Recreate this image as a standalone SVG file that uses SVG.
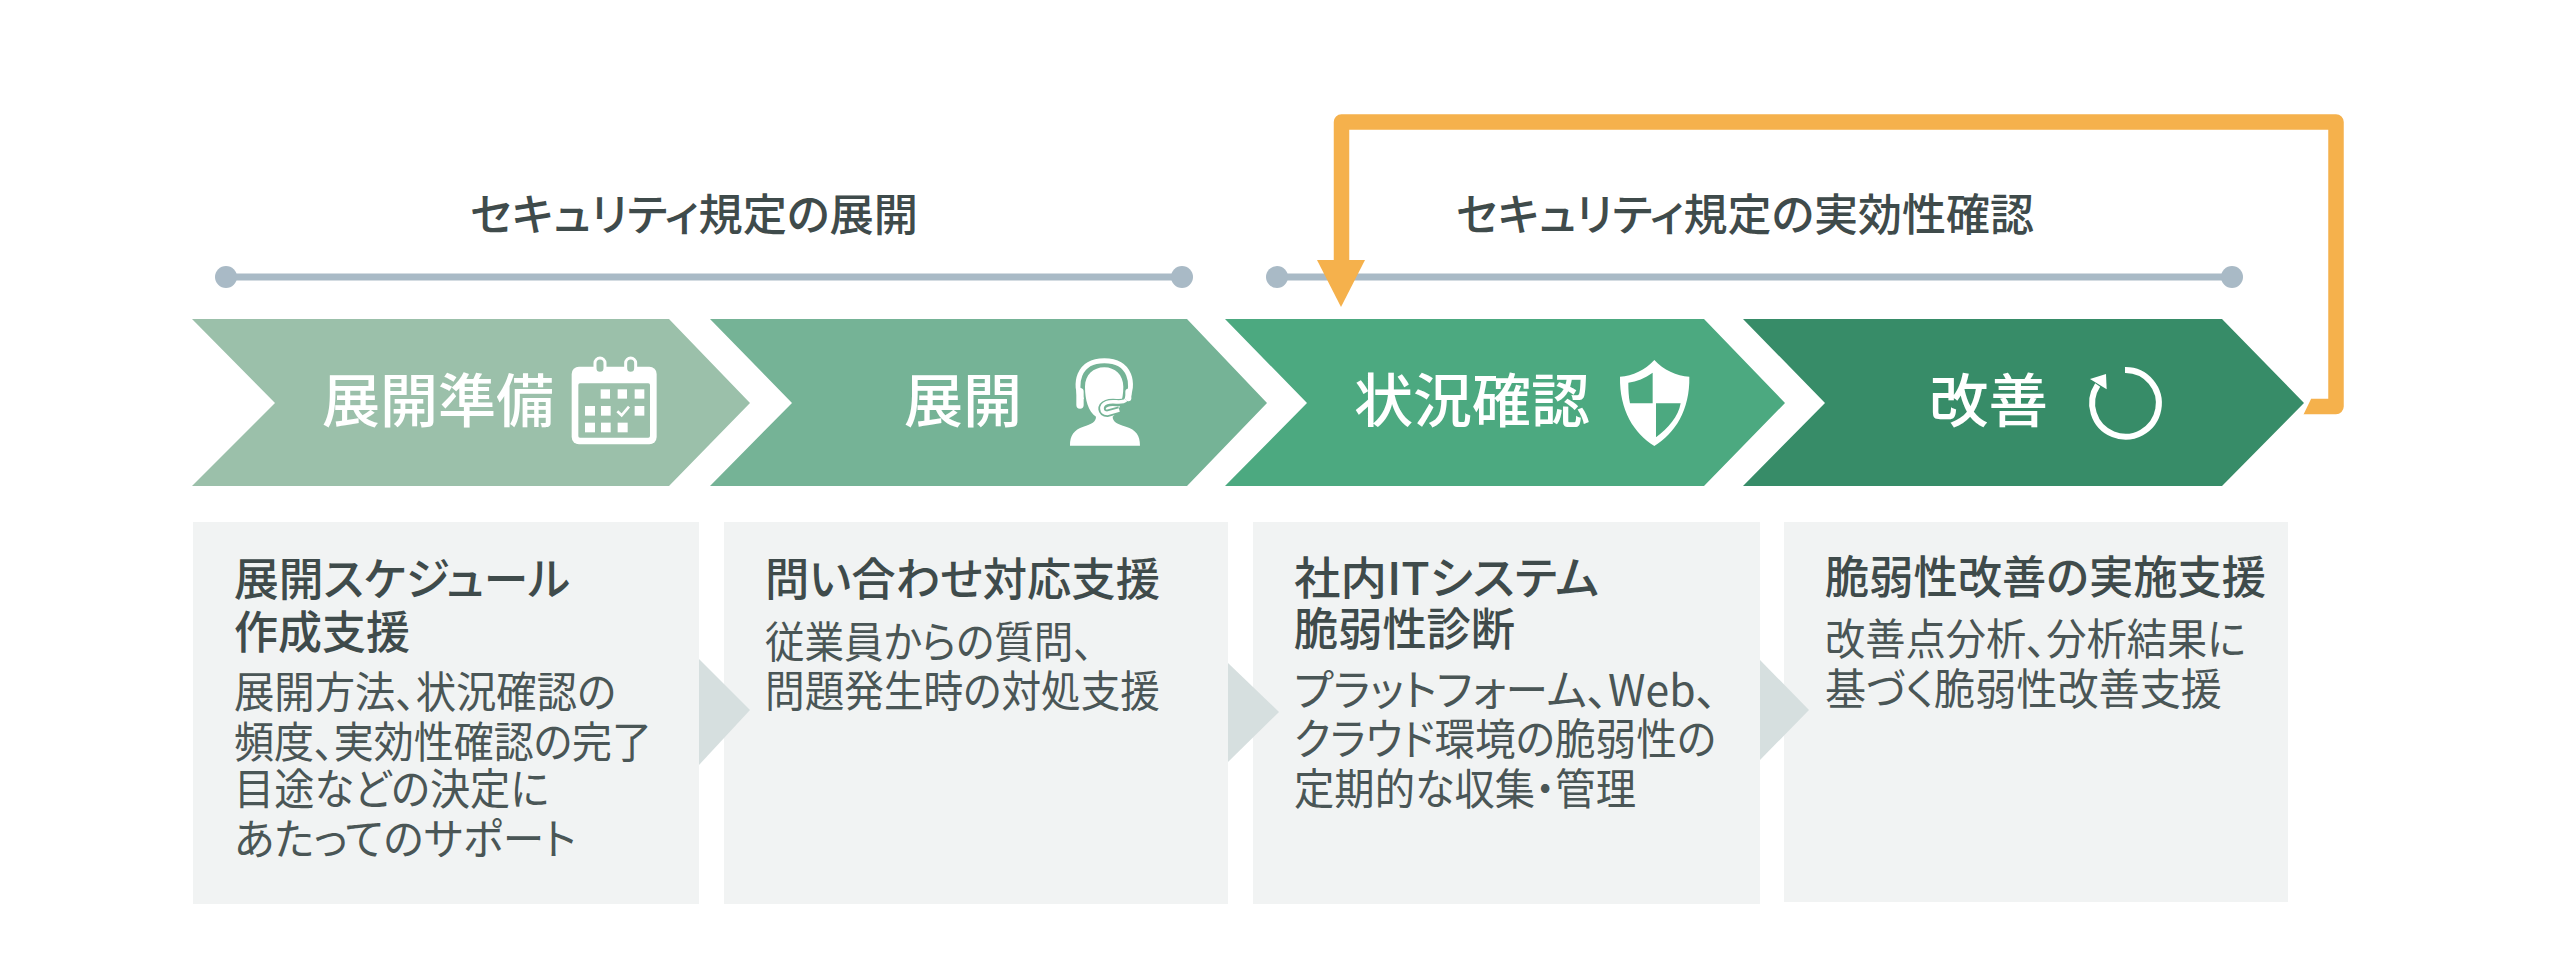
<svg xmlns="http://www.w3.org/2000/svg" width="2560" height="966" viewBox="0 0 2560 966">
<style>
text{font-family:"Noto Sans CJK JP","Noto Sans",sans-serif;fill:#3f4b4b;font-feature-settings:"palt"}
.t{font-size:44px;font-weight:500}
.l{font-size:58px;font-weight:500;fill:#fff}
.h{font-size:45px;font-weight:500}
.b{font-size:43px;font-weight:400;fill:#4a5656}
.box{fill:#f1f3f3}
.tri{fill:#d6dfdf}
.rail{stroke:#a9bac6;stroke-width:7;fill:none}
.dot{fill:#a9bac6}
.w{fill:#fff}
</style>
<defs>
<clipPath id="cc"><path d="M1300 100H2360V430H2296L2311 399V320H1300Z"/></clipPath>
</defs>
<g id="labels">
<text class="t" x="470" y="231" textLength="448" lengthAdjust="spacingAndGlyphs">セキュリティ規定の展開</text>
<text class="t" x="1456" y="231" textLength="578" lengthAdjust="spacingAndGlyphs">セキュリティ規定の実効性確認</text>
</g>
<g id="connectors">
<path class="rail" d="M226 277H1182"/><circle class="dot" cx="226" cy="277" r="11"/><circle class="dot" cx="1182" cy="277" r="11"/>
<path class="rail" d="M1277 277H2232"/><circle class="dot" cx="1277" cy="277" r="11"/><circle class="dot" cx="2232" cy="277" r="11"/>
<g clip-path="url(#cc)"><path d="M2290 406.500H2336V122H1341.500V260" fill="none" stroke="#f5b14c" stroke-width="15.500" stroke-linejoin="round"/>
<path d="M1317 260H1365L1341 307Z" fill="#f5b14c"/></g>
</g>
<g id="step-1">
<path d="M192 319H669L750 403L669 486H192L275 403Z" fill="#9bc0aa"/>
<text class="l" x="322" y="422" textLength="232" lengthAdjust="spacingAndGlyphs">展開準備</text>
<g transform="translate(560 350) scale(.3333)">
<rect class="w" x="35" y="50" width="255" height="233" rx="22"/>
<rect x="55" y="100" width="215" height="163" rx="5" fill="#9bc0aa"/>
<g fill="#9bc0aa" stroke="#fff" stroke-width="9"><rect x="105" y="24" width="30" height="46" rx="15"/><rect x="197" y="24" width="30" height="46" rx="15"/></g>
<g class="w"><rect x="122" y="118" width="28" height="28"/><rect x="173" y="118" width="28" height="28"/><rect x="224" y="118" width="29" height="28"/><rect x="75" y="168" width="30" height="29"/><rect x="123" y="168" width="29" height="29"/><rect x="224" y="168" width="29" height="29"/><rect x="75" y="218" width="30" height="29"/><rect x="123" y="218" width="29" height="29"/><rect x="173" y="218" width="30" height="29"/></g>
<path d="M172 184L185 196L207 170" fill="none" stroke="#fff" stroke-width="8"/>
</g>
</g>
<g id="step-2">
<path d="M710 319H1187L1267 403L1187 486H710L792 403Z" fill="#75b396"/>
<text class="l" x="904" y="422" textLength="118" lengthAdjust="spacingAndGlyphs">展開</text>
<g transform="translate(1060 350) scale(.3333)">
<path class="w" d="M30 287C30 255 42 240 70 230C95 222 108 215 108 200C85 185 75 150 75 110C75 75 100 52 133 52C165 52 190 75 190 110C190 150 178 185 158 200C158 215 172 222 198 230C228 240 240 255 240 287Z"/>
<path d="M65 150C42 105 52 32 133 32C214 32 224 105 200 150" fill="none" stroke="#fff" stroke-width="15"/>
<path d="M60 125V165" stroke="#fff" stroke-width="22" stroke-linecap="round" fill="none"/>
<path d="M205 125V145" stroke="#fff" stroke-width="18" stroke-linecap="round" fill="none"/>
<path d="M198 152C185 165 160 152 140 160C120 168 122 190 142 190L178 180" fill="none" stroke="#75b396" stroke-width="22"/>
<path d="M198 150C185 163 160 150 140 158C120 166 122 190 142 190L178 180" fill="none" stroke="#fff" stroke-width="11"/>
</g>
</g>
<g id="step-3">
<path d="M1225 319H1704L1785 403L1704 486H1225L1307 403Z" fill="#4ca980"/>
<text class="l" x="1354" y="422" textLength="236" lengthAdjust="spacingAndGlyphs">状況確認</text>
<g transform="translate(1610 350) scale(.3333)">
<path class="w" d="M133 30C160 60 200 78 238 80C240 180 195 250 133 288C72 250 28 180 30 80C68 78 106 60 133 30Z"/>
<path d="M128 68C105 85 80 95 55 98C55 120 56 140 60 160H128ZM138 160H212C205 200 175 235 138 262Z" fill="#4ca980"/>
</g>
</g>
<g id="step-4">
<path d="M1743 319H2222L2304 403L2222 486H1743L1825 403Z" fill="#378c68"/>
<text class="l" x="1929" y="422" textLength="119" lengthAdjust="spacingAndGlyphs">改善</text>
<g transform="translate(2075 355) scale(.3333)">
<path d="M150 45A100 100 0 1 1 68 90" fill="none" stroke="#fff" stroke-width="18"/>
<path class="w" d="M45 72L93 57L95 103Z"/>
</g>
</g>
<g id="card-1">
<rect class="box" x="193" y="522" width="506" height="382"/>
<text class="h" x="234" y="596" textLength="336" lengthAdjust="spacingAndGlyphs">展開スケジュール</text>
<text class="h" x="234" y="649" textLength="176" lengthAdjust="spacingAndGlyphs">作成支援</text>
<text class="b" x="234" y="708" textLength="382" lengthAdjust="spacingAndGlyphs">展開方法、状況確認の</text>
<text class="b" x="234" y="758" textLength="418" lengthAdjust="spacingAndGlyphs">頻度、実効性確認の完了</text>
<text class="b" x="234" y="805" textLength="315" lengthAdjust="spacingAndGlyphs">目途などの決定に</text>
<text class="b" x="234" y="855" textLength="342" lengthAdjust="spacingAndGlyphs">あたってのサポート</text>
</g>
<g id="card-2">
<rect class="box" x="724" y="522" width="504" height="382"/>
<text class="h" x="765" y="596" textLength="395" lengthAdjust="spacingAndGlyphs">問い合わせ対応支援</text>
<text class="b" x="765" y="658" textLength="328" lengthAdjust="spacingAndGlyphs">従業員からの質問、</text>
<text class="b" x="765" y="707" textLength="395" lengthAdjust="spacingAndGlyphs">問題発生時の対処支援</text>
</g>
<g id="card-3">
<rect class="box" x="1253" y="522" width="507" height="382"/>
<text class="h" x="1294" y="595" textLength="305" lengthAdjust="spacingAndGlyphs">社内ITシステム</text>
<text class="h" x="1294" y="646" textLength="221" lengthAdjust="spacingAndGlyphs">脆弱性診断</text>
<text class="b" x="1294" y="706" textLength="423" lengthAdjust="spacingAndGlyphs">プラットフォーム、Web、</text>
<text class="b" x="1294" y="755" textLength="422" lengthAdjust="spacingAndGlyphs">クラウド環境の脆弱性の</text>
<text class="b" x="1294" y="805" textLength="342" lengthAdjust="spacingAndGlyphs">定期的な収集・管理</text>
</g>
<g id="card-4">
<rect class="box" x="1784" y="522" width="504" height="380"/>
<text class="h" x="1825" y="594" textLength="441" lengthAdjust="spacingAndGlyphs">脆弱性改善の実施支援</text>
<text class="b" x="1825" y="655" textLength="421" lengthAdjust="spacingAndGlyphs">改善点分析、分析結果に</text>
<text class="b" x="1825" y="705" textLength="397" lengthAdjust="spacingAndGlyphs">基づく脆弱性改善支援</text>
</g>
<g id="small-arrows">
<path class="tri" d="M699 659L750 710L699 765Z"/>
<path class="tri" d="M1228 663L1279 712L1228 762Z"/>
<path class="tri" d="M1760 660L1809 710L1760 760Z"/>
</g>
</svg>
